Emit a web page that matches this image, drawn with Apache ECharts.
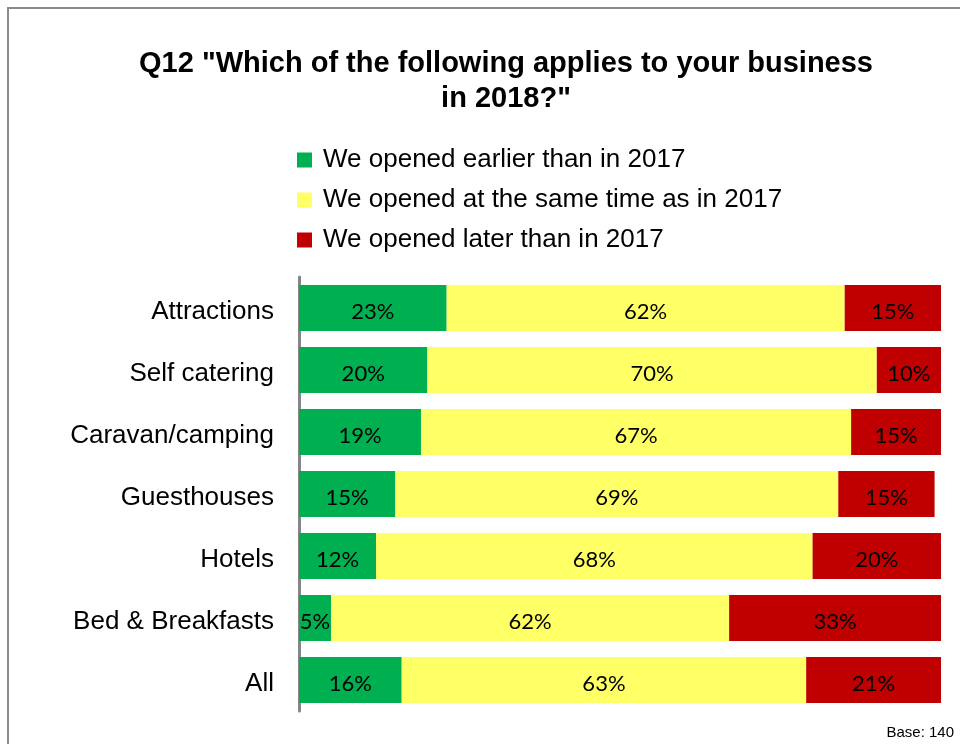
<!DOCTYPE html>
<html>
<head>
<meta charset="utf-8">
<script src="https://cdn.jsdelivr.net/npm/echarts@6/dist/echarts.min.js"></script>
<style>
  html, body { margin: 0; padding: 0; background: #fff; }
  #chart { width: 960px; height: 744px; }
</style>
</head>
<body>
<div id="chart"></div>
<script>
// Business types, top to bottom
const categories = ['Attractions', 'Self catering', 'Caravan/camping', 'Guesthouses', 'Hotels', 'Bed & Breakfasts', 'All'];

// Share of respondents (%) per answer
const openedEarlier = [23, 20, 19, 15, 12, 5, 16];
const openedSame    = [62, 70, 67, 69, 68, 62, 63];
const openedLater   = [15, 10, 15, 15, 20, 33, 21];

const seriesNames = [
  'We opened earlier than in 2017',
  'We opened at the same time as in 2017',
  'We opened later than in 2017'
];
const seriesColors = ['#00B050', '#FFFF66', '#C00000'];
const seriesValues = [openedEarlier, openedSame, openedLater];

const chart = echarts.init(document.getElementById('chart'), null, { renderer: 'canvas' });

const barLabel = {
  show: true,
  position: 'inside',
  formatter: '{c}%',
  color: '#000',
  fontFamily: 'Lato',
  fontSize: 22,
  offset: [0, 4]
};

chart.setOption({
  animation: false,
  backgroundColor: '#fff',
  title: {
    text: 'Q12 "Which of the following applies to your business\nin 2018?"',
    left: 501,
    top: 41,
    textAlign: 'center',
    textStyle: {
      fontFamily: 'Liberation Sans',
      fontWeight: 'bold',
      fontSize: 29,
      lineHeight: 35,
      color: '#000'
    }
  },
  legend: {
    orient: 'vertical',
    left: 292,
    top: 142,
    itemWidth: 15,
    itemHeight: 15,
    itemGap: 14,
    icon: 'rect',
    data: seriesNames,
    textStyle: {
      fontFamily: 'Liberation Sans',
      fontSize: 26,
      lineHeight: 26,
      color: '#000',
      padding: [0, 0, 0, 6]
    }
  },
  grid: {
    left: 299,
    right: 19,
    top: 277,
    bottom: 33,
    containLabel: false
  },
  xAxis: {
    type: 'value',
    min: 0,
    max: 100,
    show: false
  },
  yAxis: {
    type: 'category',
    data: categories,
    inverse: true,
    axisTick: { show: false },
    axisLine: { show: true, lineStyle: { color: '#868686', width: 3 } },
    axisLabel: {
      margin: 25,
      formatter: v => '{c|' + v + '}',
      rich: {
        c: {
          fontFamily: 'Liberation Sans',
          fontSize: 26,
          color: '#000',
          lineHeight: 34,
          verticalAlign: 'bottom'
        }
      }
    },
    splitLine: { show: false }
  },
  series: seriesValues.map((vals, i) => ({
    name: seriesNames[i],
    type: 'bar',
    stack: 'total',
    barWidth: 46,
    itemStyle: { color: seriesColors[i] },
    label: barLabel,
    data: vals
  })),
  graphic: [
    {
      type: 'rect',
      shape: { x: 8, y: 8, width: 1000, height: 1000 },
      style: { fill: 'none', stroke: '#8a8a8a', lineWidth: 2 },
      silent: true
    },
    {
      type: 'text',
      right: 6,
      top: 725,
      style: {
        text: 'Base: 140',
        fontFamily: 'Liberation Sans',
        fontSize: 15,
        fill: '#000'
      }
    }
  ]
});
</script>
</body>
</html>
